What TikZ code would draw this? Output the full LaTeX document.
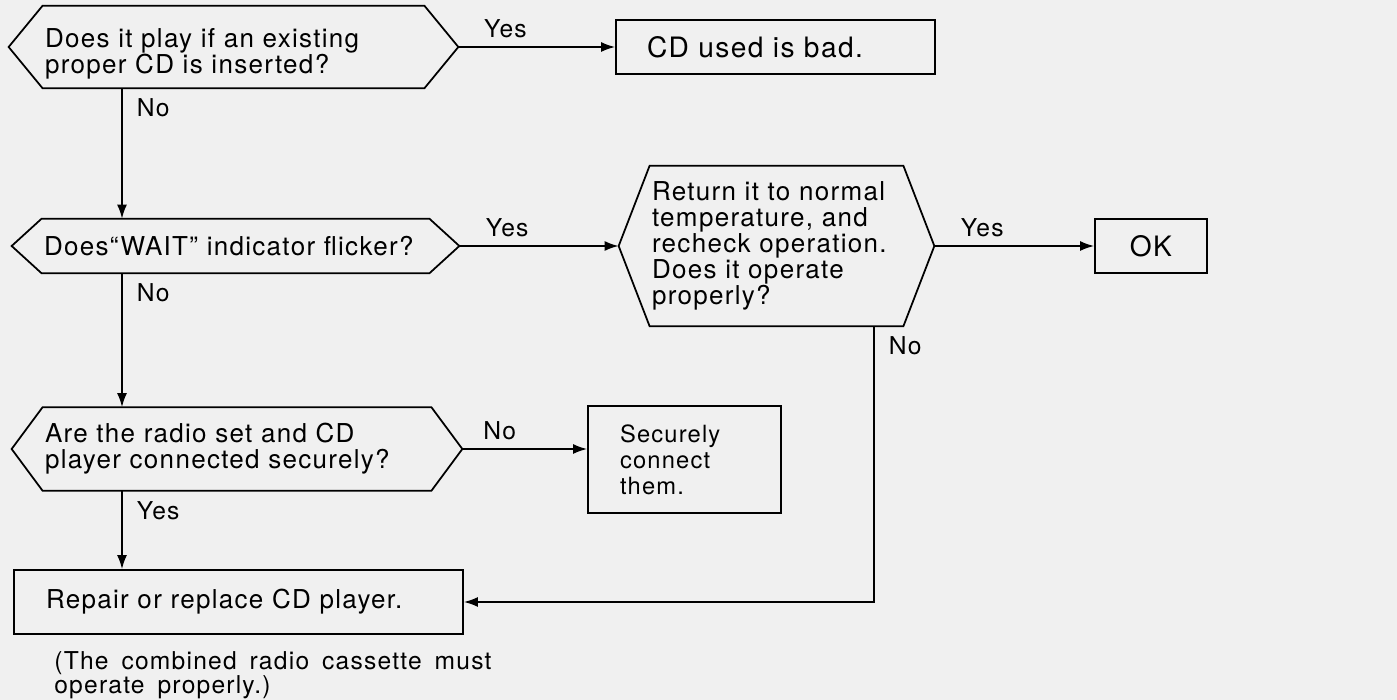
\documentclass[tikz,border=0pt]{standalone}
\usepackage{fontspec}
\setmainfont{TeX Gyre Heros}[LetterSpace=5, WordSpace=1.6]
\usetikzlibrary{arrows.meta}
\usetikzlibrary{math}

\newcommand{\askfont}{\fontsize{14.8}{14.8}\selectfont}
\newcommand{\actfont}{\fontsize{16}{14.8}\selectfont}
\newcommand{\secfont}{\fontsize{13.5}{14.8}\selectfont}
\newcommand{\notefont}{\fontsize{14}{13.6}\selectfont}
\newcommand{\labfont}{\fontsize{14}{14}\selectfont}

\tikzstyle{ask} = [rectangle, inner xsep=0.04cm, inner ysep=0pt, align=left, font=\askfont]
\tikzstyle{act} = [rectangle, draw, line width=1pt, inner ysep=0pt, align=left, font=\actfont]
\tikzstyle{lab} = [inner sep=0pt, font=\labfont]
\tikzstyle{uplab} = [lab, above, pos=0.3, yshift=0.16cm]
\tikzstyle{dnlab} = [lab, anchor=north west, xshift=0.28cm, yshift=-0.19cm]
\tikzstyle{arrow} = [->, line width=1pt]

% hexagon round a question node, #2 = how far the side points stick out
\newcommand{\hexframe}[2]{%
  \draw[line width=1pt] (#1.north west) -- (#1.north east) -- ([xshift=#2]#1.east) coordinate (#1-r)
    -- (#1.south east) -- (#1.south west) -- ([xshift=-#2]#1.west) coordinate (#1-l) -- cycle;}

\begin{document}
\begin{tikzpicture}[>={Latex[length=2.8mm,width=2mm]}]

  \tikzmath{\W = 27.94; \H = 14; \cx = 2.44; \nx = 17.48;}

  \fill[black!6] (0,0) rectangle (\W,\H);
  \useasboundingbox (0,0) rectangle (\W,\H);

  % questions
  \node[ask, text width=7.54cm, minimum height=1.64cm] (q1) at (4.67,13.06) {\fontsize{14.8}{16.5}\selectfont\rule{0pt}{0.64cm}Does it play if an existing\\proper CD is inserted?};
  \node[ask, text width=7.66cm, minimum height=1.08cm] (q2) at (4.71,9.08) {Does“WAIT” indicator flicker?};
  \node[ask, text width=4.98cm, minimum height=3.2cm] (q3) at (15.53,9.08) {Return it to normal\\temperature, and\\recheck operation.\\Does it operate\\properly?};
  \node[ask, text width=7.68cm, minimum height=1.66cm] (q4) at (4.74,5.02) {Are the radio set and CD\\player connected securely?};
  \hexframe{q1}{0.68cm}
  \hexframe{q2}{0.6cm}
  \hexframe{q3}{0.62cm}
  \hexframe{q4}{0.62cm}

  % answers
  \node[act, text width=5.14cm, inner xsep=0.62cm, minimum height=1.08cm] (bad) at (15.51,13.06) {CD used is bad.};
  \node[act, align=center, minimum width=2.24cm, minimum height=1.08cm] (ok) at (23.02,9.08) {OK};
  \node[act, font=\secfont, text width=2.58cm, inner xsep=0.64cm, minimum height=2.14cm] (sec) at (13.69,4.81) {Securely\\connect\\them.};
  \node[act, font=\askfont, text width=7.7cm, inner xsep=0.64cm, minimum height=1.28cm] (rep) at (4.77,1.96) {Repair or replace CD player.};
  \node[font=\notefont, align=left, anchor=north west, inner sep=0pt] (note) at (1.08,0.97) {(The combined radio cassette must\\operate properly.)};

  \coordinate (colA) at (\cx,0);
  \coordinate (colB) at (\nx,0);

  % Yes / No branches
  \draw[arrow] (q1-r) -- node[uplab]{Yes} (bad.west);
  \draw[arrow] (q1.south -| colA) node[dnlab]{No} -- (q2.north -| colA);
  \draw[arrow] (q2-r) -- node[uplab]{Yes} (q3-l);
  \draw[arrow] (q2.south -| colA) node[dnlab]{No} -- (q4.north -| colA);
  \draw[arrow] (q3-r) -- node[uplab]{Yes} (ok.west);
  \draw[arrow] (q3.south -| colB) node[dnlab]{No} -- (colB |- rep.east) -- (rep.east);
  \draw[arrow] (q4-r) -- node[uplab]{No} (q4-r -| sec.west);
  \draw[arrow] (q4.south -| colA) node[dnlab]{Yes} -- (rep.north -| colA);

\end{tikzpicture}
\end{document}
